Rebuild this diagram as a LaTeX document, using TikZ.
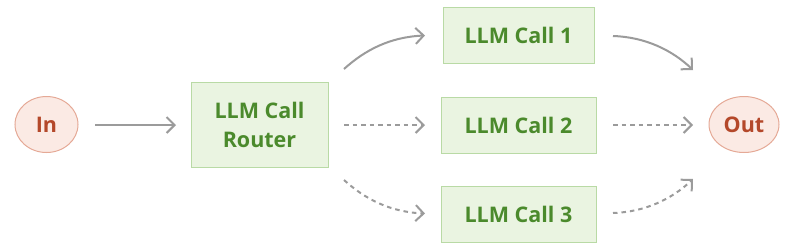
\documentclass[tikz,border=0pt]{standalone}
\usepackage{fontspec}
\setmainfont{Open Sans}
\usetikzlibrary{arrows.meta,shapes.geometric}
\definecolor{gfill}{HTML}{EAF4E1}
\definecolor{gdraw}{HTML}{B9DAA5}
\definecolor{gtext}{HTML}{4B8A2C}
\definecolor{rfill}{HTML}{FBEAE4}
\definecolor{rdraw}{HTML}{E5A996}
\definecolor{rtext}{HTML}{B4482A}
\definecolor{agray}{HTML}{9B9B9B}
\begin{document}
\begin{tikzpicture}[x=1pt,y=-1pt,
  callbox/.style={draw=gdraw,fill=gfill,line width=1pt,text=gtext,font=\fontsize{21.5}{29}\selectfont\bfseries,align=center,inner sep=0pt},
  term/.style={ellipse,draw=rdraw,fill=rfill,line width=1pt,text=rtext,font=\fontsize{21.5}{29}\selectfont\bfseries,inner sep=0pt},
  conn/.style={draw=agray,line width=2pt,-{Straight Barb[length=8pt,width=16pt,line width=2pt]}},
  dconn/.style={conn,dash pattern=on 4.5pt off 4pt}]
\useasboundingbox (0,0) rectangle (804,250);
\node[term,minimum width=63pt,minimum height=56pt] (in) at (46.5,124.5) {In};
\node[term,minimum width=70pt,minimum height=56pt] (out) at (744,124.5) {Out};
\node[callbox,minimum width=137pt,minimum height=85pt] (router) at (259.5,124.5) {LLM Call\\Router};
\node[callbox,minimum width=151pt,minimum height=56pt] (c1) at (518.5,35) {LLM Call 1};
\node[callbox,minimum width=155pt,minimum height=56pt] (c2) at (518.5,125) {LLM Call 2};
\node[callbox,minimum width=155pt,minimum height=56pt] (c3) at (518.5,214) {LLM Call 3};
\coordinate (a0) at (95,125);  \coordinate (a1) at (176,125);
\coordinate (b0) at (344,69);  \coordinate (b1) at (425,35.5);
\coordinate (d0) at (344,125); \coordinate (d1) at (425,125);
\coordinate (e0) at (344,180); \coordinate (e1) at (425,213.5);
\coordinate (f0) at (613,36);  \coordinate (f1) at (693,70);
\coordinate (g0) at (613,125); \coordinate (g1) at (693,125);
\coordinate (h0) at (613,213); \coordinate (h1) at (693,179);
\draw[conn] (a0) -- (a1);
\draw[conn] (b0) .. controls (365,50) and (390,37) .. (b1);
\draw[dconn] (d0) -- (d1);
\draw[dconn] (e0) .. controls (365,199) and (390,212) .. (e1);
\draw[conn] (f0) .. controls (645,37) and (672,50) .. (f1);
\draw[dconn] (g0) -- (g1);
\draw[dconn] (h0) .. controls (645,212) and (672,199) .. (h1);
\end{tikzpicture}
\end{document}
